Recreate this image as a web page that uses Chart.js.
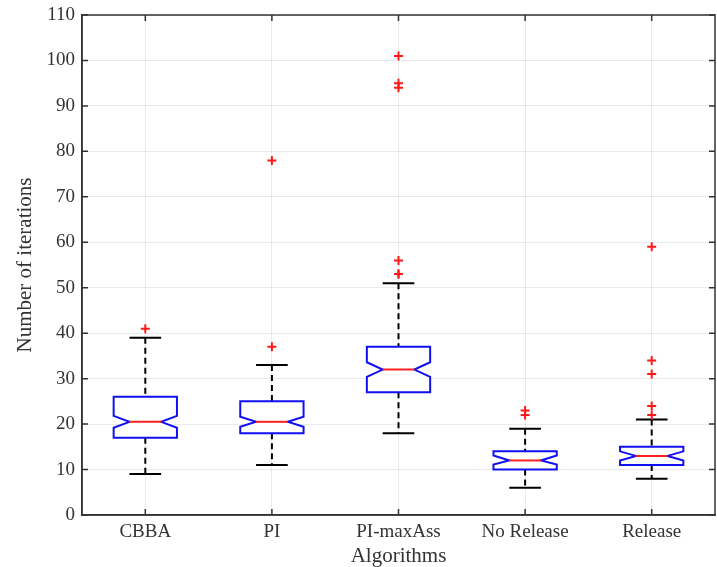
<!DOCTYPE html>
<html>
<head>
<meta charset="utf-8">
<script src="https://cdn.jsdelivr.net/npm/chart.js@4/dist/chart.umd.min.js"></script>
<style>
  html, body { margin: 0; padding: 0; background: #ffffff; }
  #wrap { width: 717px; height: 567px; }
</style>
</head>
<body>
<div id="wrap"><canvas id="c" width="717" height="567"></canvas></div>
<script>
// ---- Data ----
const categories = ['CBBA', 'PI', 'PI-maxAss', 'No Release', 'Release'];
const whiskerLow  = [9, 11, 18, 6, 8];
const q1          = [17, 18, 27, 10, 11];
const notchLow    = [19.2, 19.4, 30.4, 11.1, 12.0];
const medians     = [20.5, 20.5, 32, 12, 13];
const notchHigh   = [21.8, 21.6, 33.6, 13.1, 14.0];
const q3          = [26, 25, 37, 14, 15];
const whiskerHigh = [39, 33, 51, 19, 21];
const outliers = [
  [41],
  [37, 78],
  [53, 53, 56, 94, 95, 101],
  [22, 23],
  [22, 24, 31, 34, 59]
];
const yTicks = [0, 10, 20, 30, 40, 50, 60, 70, 80, 90, 100, 110];

// scatter points for outliers (x = category position 1..n)
const outlierPoints = [];
outliers.forEach((arr, i) => arr.forEach(v => outlierPoints.push({ x: i + 1, y: v })));

const AXIS_COLOR = '#333333';
const TEXT_COLOR = '#333333';
const SERIF = '"Liberation Serif", "Times New Roman", serif';

function noScalePadding(s) {
  s.paddingTop = 0; s.paddingBottom = 0; s.paddingLeft = 0; s.paddingRight = 0;
}

const boxPlugin = {
  id: 'notchedBoxes',
  beforeDatasetsDraw(chart) {
    const { ctx, scales: { x, y } } = chart;
    const unit = x.getPixelForValue(1) - x.getPixelForValue(0);
    const hw = unit * 0.25;
    ctx.save();
    categories.forEach((c, i) => {
      const cx = x.getPixelForValue(i + 1);
      const yQ1 = y.getPixelForValue(q1[i]);
      const yQ3 = y.getPixelForValue(q3[i]);
      const yMed = y.getPixelForValue(medians[i]);
      const yNL = y.getPixelForValue(notchLow[i]);
      const yNH = y.getPixelForValue(notchHigh[i]);
      const yWL = y.getPixelForValue(whiskerLow[i]);
      const yWH = y.getPixelForValue(whiskerHigh[i]);

      // whiskers (dashed)
      ctx.strokeStyle = '#000000';
      ctx.lineWidth = 2;
      ctx.setLineDash([6, 4]);
      ctx.beginPath();
      ctx.moveTo(cx, yWH); ctx.lineTo(cx, yQ3);
      ctx.moveTo(cx, yQ1); ctx.lineTo(cx, yWL);
      ctx.stroke();
      ctx.setLineDash([]);
      // caps
      ctx.beginPath();
      ctx.moveTo(cx - hw / 2, yWH); ctx.lineTo(cx + hw / 2, yWH);
      ctx.moveTo(cx - hw / 2, yWL); ctx.lineTo(cx + hw / 2, yWL);
      ctx.stroke();

      // notched box
      ctx.strokeStyle = '#1010f0';
      ctx.lineWidth = 2;
      ctx.beginPath();
      ctx.moveTo(cx - hw, yQ3);
      ctx.lineTo(cx + hw, yQ3);
      ctx.lineTo(cx + hw, yNH);
      ctx.lineTo(cx + hw / 2, yMed);
      ctx.lineTo(cx + hw, yNL);
      ctx.lineTo(cx + hw, yQ1);
      ctx.lineTo(cx - hw, yQ1);
      ctx.lineTo(cx - hw, yNL);
      ctx.lineTo(cx - hw / 2, yMed);
      ctx.lineTo(cx - hw, yNH);
      ctx.closePath();
      ctx.fillStyle = '#ffffff';
      ctx.fill();
      ctx.stroke();

      // median
      ctx.strokeStyle = '#ff2020';
      ctx.beginPath();
      ctx.moveTo(cx - hw / 2, yMed); ctx.lineTo(cx + hw / 2, yMed);
      ctx.stroke();
    });
    ctx.restore();
  },
  afterDraw(chart) {
    const { ctx, chartArea: a, scales: { x, y } } = chart;
    ctx.save();
    ctx.strokeStyle = AXIS_COLOR;
    ctx.lineWidth = 1.5;
    ctx.strokeRect(a.left, a.top, a.right - a.left, a.bottom - a.top);
    const tl = 6;
    ctx.beginPath();
    y.ticks.forEach(t => {
      const py = y.getPixelForValue(t.value);
      ctx.moveTo(a.left, py); ctx.lineTo(a.left + tl, py);
      ctx.moveTo(a.right, py); ctx.lineTo(a.right - tl, py);
    });
    x.ticks.forEach(t => {
      const px = x.getPixelForValue(t.value);
      ctx.moveTo(px, a.bottom); ctx.lineTo(px, a.bottom - tl);
      ctx.moveTo(px, a.top); ctx.lineTo(px, a.top + tl);
    });
    ctx.stroke();
    ctx.restore();
  }
};

new Chart(document.getElementById('c'), {
  type: 'scatter',
  data: {
    datasets: [{
      label: 'Outliers',
      data: outlierPoints,
      pointStyle: 'cross',
      pointRadius: 4.5,
      pointBorderWidth: 2,
      borderColor: '#ff1a1a',
      backgroundColor: '#ff1a1a'
    }]
  },
  options: {
    responsive: false,
    animation: false,
    layout: { autoPadding: false, padding: { left: 0, right: 2, top: 15, bottom: 0 } },
    plugins: { legend: { display: false }, tooltip: { enabled: false } },
    scales: {
      x: {
        type: 'linear',
        min: 0.5,
        max: categories.length + 0.5,
        afterBuildTicks: (s) => { s.ticks = categories.map((c, i) => ({ value: i + 1 })); },
        afterFit: (s) => { s.height = 52; noScalePadding(s); },
        ticks: {
          autoSkip: false,
          maxRotation: 0,
          padding: 6,
          color: TEXT_COLOR,
          font: { family: SERIF, size: 19 },
          callback: (v) => categories[Math.round(v) - 1] || ''
        },
        grid: { color: 'rgba(0,0,0,0.08)', drawTicks: false },
        border: { display: true, color: AXIS_COLOR, width: 1.5 },
        title: {
          display: true,
          text: 'Algorithms',
          color: TEXT_COLOR,
          font: { family: SERIF, size: 21, lineHeight: 1 },
          padding: { top: 0, bottom: 0 }
        }
      },
      y: {
        min: 0,
        max: 110,
        afterBuildTicks: (s) => { s.ticks = yTicks.map(v => ({ value: v })); },
        afterFit: (s) => { s.width = 82; noScalePadding(s); },
        ticks: {
          padding: 7,
          color: TEXT_COLOR,
          font: { family: SERIF, size: 19 }
        },
        grid: { color: 'rgba(0,0,0,0.08)', drawTicks: false },
        border: { display: true, color: AXIS_COLOR, width: 1.5 },
        title: {
          display: true,
          text: 'Number of iterations',
          color: TEXT_COLOR,
          font: { family: SERIF, size: 21, lineHeight: 1 },
          padding: { top: 15, bottom: 0 }
        }
      }
    }
  },
  plugins: [boxPlugin]
});
</script>
</body>
</html>
